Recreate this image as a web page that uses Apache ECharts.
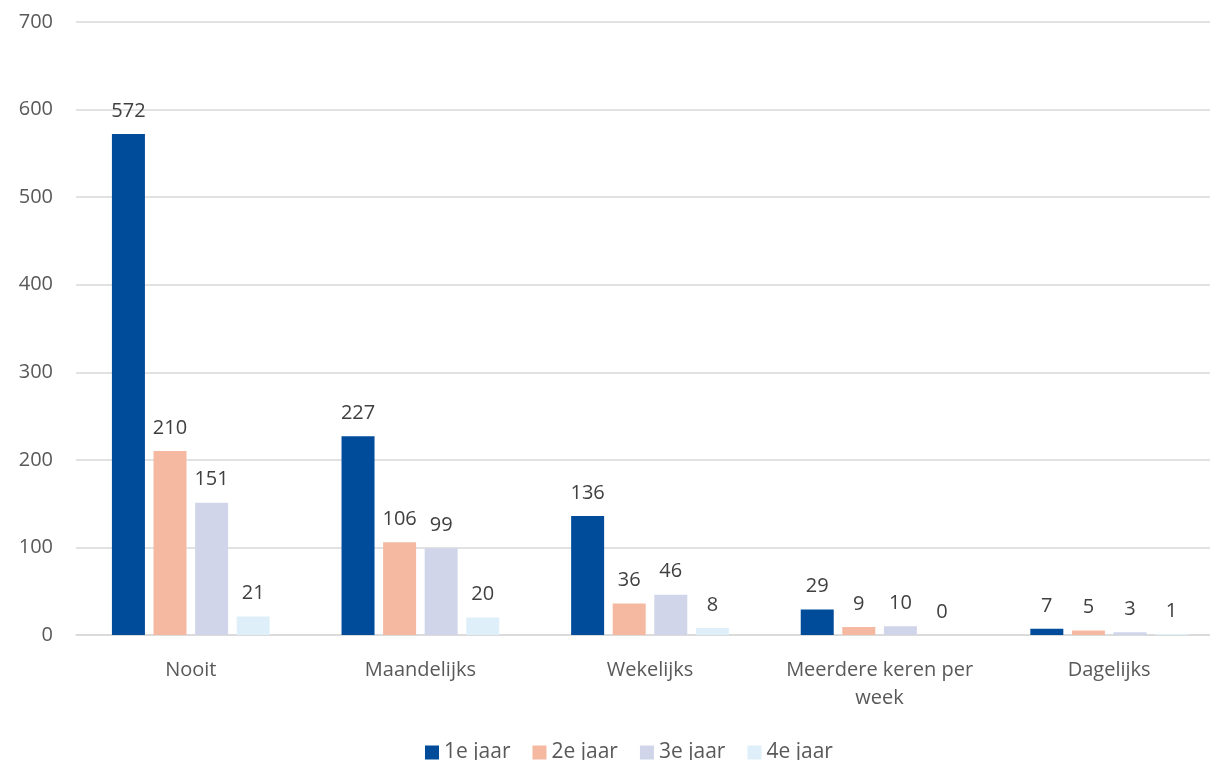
<!DOCTYPE html>
<html><head><meta charset="utf-8">
<script src="https://cdn.jsdelivr.net/npm/echarts@6/dist/echarts.min.js"></script>
<style>html,body{margin:0;padding:0;background:#fff}#c{width:1210px;height:760px}</style>
</head><body><div id="c"></div>
<script>
const categories = ['Nooit', 'Maandelijks', 'Wekelijks', 'Meerdere keren per\nweek', 'Dagelijks'];
const seriesNames = ['1e jaar', '2e jaar', '3e jaar', '4e jaar'];
const jaar1 = [572, 227, 136, 29, 7];
const jaar2 = [210, 106, 36, 9, 5];
const jaar3 = [151, 99, 46, 10, 3];
const jaar4 = [21, 20, 8, 0, 1];
const colors = ['#004C9A', '#F4B9A0', '#D0D5EA', '#DEEFFA'];
const values = [jaar1, jaar2, jaar3, jaar4];
const font = '"Open Sans", "Liberation Sans", sans-serif';
const txt = '#404040';
const axTxt = '#595959';
const chart = echarts.init(document.getElementById('c'));
chart.setOption({
  animation: false,
  textStyle: {fontFamily: font},
  grid: {left: 76, width: 1148, top: 22, height: 613, containLabel: false, outerBoundsMode: 'none'},
  legend: {
    top: 742, left: 425, padding: 0, itemWidth: 14, itemHeight: 14, itemGap: 22,
    icon: 'rect',
    textStyle: {color: axTxt, fontSize: 21, fontFamily: font},
    data: seriesNames
  },
  xAxis: {
    type: 'category', data: categories,
    axisLine: {lineStyle: {color: '#D9D9D9', width: 1.5}},
    axisTick: {show: false},
    axisLabel: {color: axTxt, fontSize: 20, margin: 21, lineHeight: 28, fontFamily: font, interval: 0}
  },
  yAxis: {
    type: 'value', min: 0, max: 700, interval: 100,
    axisLine: {show: false}, axisTick: {show: false},
    splitLine: {lineStyle: {color: '#D9D9D9', width: 1.5}},
    axisLabel: {color: axTxt, fontSize: 20, margin: 23, fontFamily: font}
  },
  series: seriesNames.map((n, i) => ({
    name: n, type: 'bar', data: values[i],
    barWidth: 33, barGap: '26%',
    itemStyle: {color: colors[i]},
    label: {show: true, position: 'top', distance: 13, color: txt, fontSize: 20, fontFamily: font}
  }))
});
</script></body></html>
